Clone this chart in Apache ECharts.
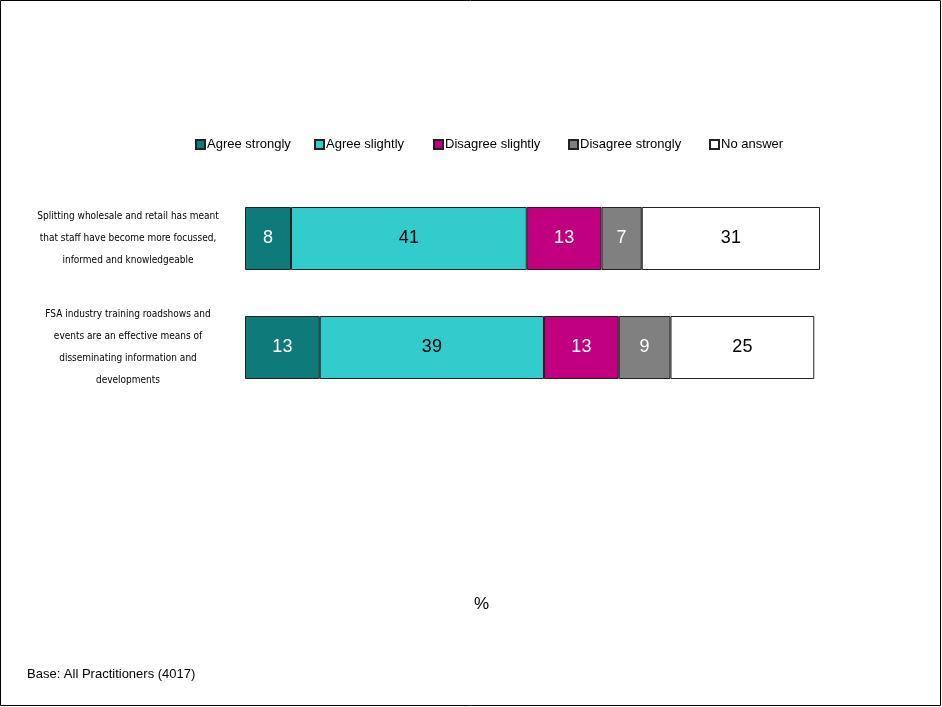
<!DOCTYPE html>
<html>
<head>
<meta charset="utf-8">
<script src="https://cdn.jsdelivr.net/npm/echarts@6/dist/echarts.min.js"></script>
<style>
  html, body { margin: 0; padding: 0; background: #fff; }
  #chart { width: 942px; height: 707px; }
</style>
</head>
<body>
<div id="chart"></div>
<script>
// Survey statements (top to bottom)
const statements = [
  'Splitting wholesale and retail has meant\nthat staff have become more focussed,\ninformed and knowledgeable',
  'FSA industry training roadshows and\nevents are an effective means of\ndisseminating information and\ndevelopments'
];

// Response shares (%) per statement
const agreeStrongly    = [8, 13];
const agreeSlightly    = [41, 39];
const disagreeSlightly = [13, 13];
const disagreeStrongly = [7, 9];
const noAnswer         = [31, 25];

const responseNames  = ['Agree strongly', 'Agree slightly', 'Disagree slightly', 'Disagree strongly', 'No answer'];
const responseValues = [agreeStrongly, agreeSlightly, disagreeSlightly, disagreeStrongly, noAnswer];
const responseColors = ['#0E7A7A', '#33CCCC', '#C0007F', '#808080', '#FFFFFF'];
const labelColors    = ['#FFFFFF', '#000000', '#FFFFFF', '#FFFFFF', '#000000'];

// Legend item left positions (px)
const legendLeft = [195, 314, 433, 568, 709];

const chart = echarts.init(document.getElementById('chart'), null, { renderer: 'canvas' });

const series = responseNames.map((name, i) => ({
  name: name,
  type: 'bar',
  stack: 'total',
  barWidth: 63,
  data: responseValues[i],
  itemStyle: { color: responseColors[i], borderColor: '#222', borderWidth: 1 },
  label: {
    show: true,
    position: 'inside',
    color: labelColors[i],
    fontFamily: 'Liberation Sans, Arial, sans-serif',
    fontSize: 18
  },
  emphasis: { disabled: true }
}));

const legends = responseNames.map((name, i) => ({
  data: [name],
  left: legendLeft[i],
  top: 138,
  itemWidth: 9,
  itemHeight: 9,
  itemGap: 0,
  padding: 0,
  icon: 'rect',
  textStyle: { fontFamily: 'Liberation Sans, Arial, sans-serif', fontSize: 13, color: '#000', padding: [0, 0, 0, -3] },
  selectedMode: false
}));

chart.setOption({
  animation: false,
  backgroundColor: '#fff',
  legend: legends,
  grid: { left: 245, right: 122, top: 184, height: 218, containLabel: false },
  xAxis: {
    type: 'value',
    min: 0,
    max: 100,
    show: false
  },
  yAxis: {
    type: 'category',
    inverse: true,
    data: statements,
    axisLine: { show: false },
    axisTick: { show: false },
    axisLabel: {
      margin: 117,
      align: 'center',
      lineHeight: 22,
      fontSize: 10,
      color: '#000',
      fontFamily: '"DejaVu Sans Condensed", "Liberation Sans Narrow", sans-serif'
    }
  },
  series: series,
  graphic: [
    {
      type: 'rect',
      shape: { x: 0.5, y: 0.5, width: 940, height: 705 },
      style: { fill: 'none', stroke: '#000', lineWidth: 1 },
      silent: true
    },
    {
      type: 'text',
      left: 474,
      top: 596,
      style: { text: '%', font: '17px Liberation Sans, Arial, sans-serif', fill: '#000' }
    },
    {
      type: 'text',
      left: 27,
      top: 668,
      style: { text: 'Base: All Practitioners (4017)', font: '13px Liberation Sans, Arial, sans-serif', fill: '#000' }
    }
  ]
});
</script>
</body>
</html>
